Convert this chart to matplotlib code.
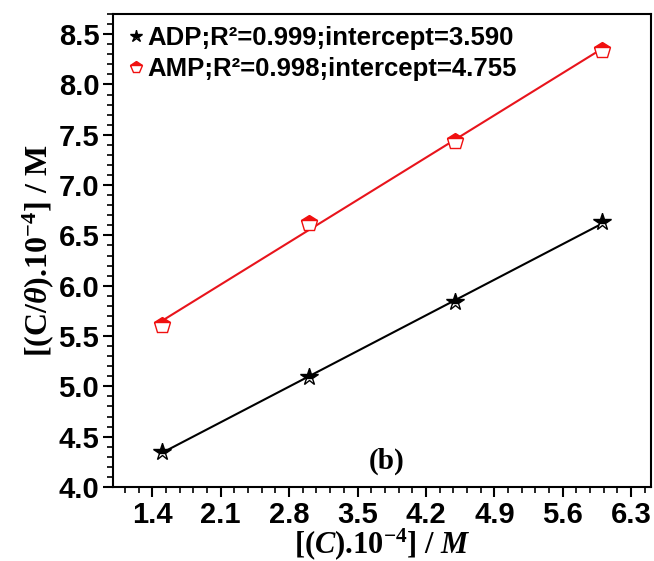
import matplotlib
matplotlib.use("Agg")
import matplotlib.pyplot as plt
from matplotlib.ticker import MultipleLocator, FormatStrFormatter
import numpy as np

# concentration (x 10^-4 M) and C/theta (x 10^-4 M)
conc = [1.5, 3.0, 4.5, 6.0]
adp = [4.35, 5.09, 5.84, 6.63]
amp = [5.61, 6.62, 7.44, 8.34]
adp_label = "ADP;R²=0.999;intercept=3.590"
amp_label = "AMP;R²=0.998;intercept=4.755"

plt.rcParams["font.family"] = ["Liberation Sans", "DejaVu Sans"]
plt.rcParams["font.weight"] = "bold"
plt.rcParams["mathtext.fontset"] = "custom"
plt.rcParams["mathtext.rm"] = "Liberation Serif:bold"
plt.rcParams["mathtext.bf"] = "Liberation Serif:bold"
plt.rcParams["mathtext.it"] = "Liberation Serif:italic:bold"

serif = ["Liberation Serif", "DejaVu Serif"]

fig = plt.figure(figsize=(6.54, 5.61), dpi=100)
ax = fig.add_axes([0.173, 0.132, 0.822, 0.843])

x = np.array(conc)
xfit = np.array([x.min(), x.max()])
for y, col in [(adp, "black"), (amp, "#e8141c")]:
    k, b = np.polyfit(x, y, 1)
    ax.plot(xfit, k * xfit + b, color=col, lw=1.5, zorder=2)

ax.plot(conc, adp, ls="none", marker="*", ms=13, color="black",
        fillstyle="top", markerfacecoloralt="white", mew=1.0,
        label=adp_label, zorder=3)
ax.plot(conc, amp, ls="none", marker="p", ms=12, color="#f01010",
        fillstyle="top", markerfacecoloralt="white", mew=1.0,
        label=amp_label, zorder=3)

ax.set_xlim(1.0, 6.5)
ax.set_ylim(4.0, 8.7)
ax.xaxis.set_major_locator(MultipleLocator(0.7))
ax.xaxis.set_minor_locator(MultipleLocator(0.14))
ax.yaxis.set_major_locator(MultipleLocator(0.5))
ax.yaxis.set_minor_locator(MultipleLocator(0.1))
ax.xaxis.set_major_formatter(FormatStrFormatter("%.1f"))
ax.yaxis.set_major_formatter(FormatStrFormatter("%.1f"))
ax.tick_params(which="major", direction="out", length=7, width=1.5,
               labelsize=21, pad=3)
ax.tick_params(which="minor", direction="out", length=4, width=1.2)
for lab in ax.get_xticklabels() + ax.get_yticklabels():
    lab.set_fontweight("bold")
for sp in ax.spines.values():
    sp.set_linewidth(1.5)

ax.set_xlabel(r"[($C$).10$^{-4}$] / $M$", fontsize=22, labelpad=-2,
              family=serif, fontweight="bold")
ax.set_ylabel(r"[(C/$\theta$).10$^{-4}$] / M", fontsize=23, labelpad=2,
              family=serif, fontweight="bold")

ax.text(3.8, 4.25, "(b)", fontsize=21, ha="center", va="center",
        family=serif, fontweight="bold")

leg = ax.legend(loc="upper left", frameon=False, fontsize=18.5,
                handletextpad=0.0, borderaxespad=0.1, labelspacing=0.3,
                handlelength=0.9, markerscale=0.7, borderpad=0.35)
for t in leg.get_texts():
    t.set_fontweight("bold")

fig.savefig("out.png", dpi=100)
